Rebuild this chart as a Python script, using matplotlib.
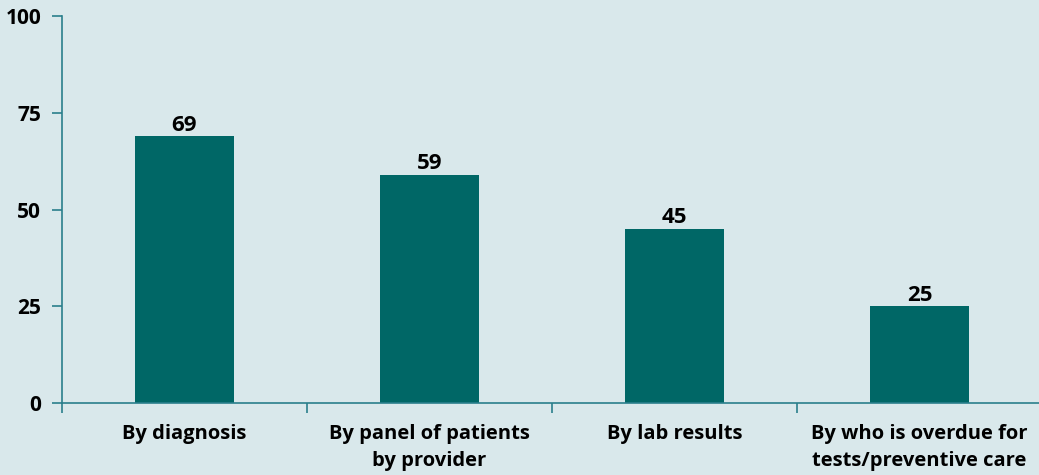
import matplotlib
matplotlib.use("Agg")
import matplotlib.pyplot as plt
import numpy as np

categories = ["By diagnosis", "By panel of patients\nby provider", "By lab results",
              "By who is overdue for\ntests/preventive care"]
values = [69, 59, 45, 25]
yticks = [0, 25, 50, 75, 100]

bg = "#d9e8eb"
bar_color = "#006766"
spine_color = "#2a7f8c"

plt.rcParams['font.family'] = ['Open Sans', 'DejaVu Sans']

fig = plt.figure(figsize=(10.39, 4.75), dpi=100, facecolor=bg)
ax = fig.add_axes([62/1039, 72/475, 980/1039, 387/475])
ax.set_facecolor(bg)

x = np.arange(len(categories))
ax.bar(x, values, width=0.404, color=bar_color, zorder=2)
for xi, v in zip(x, values):
    ax.text(xi, v + 0.1, str(v), ha="center", va="bottom", fontsize=16,
            fontweight="bold", color="black")

ax.set_xlim(-0.5, 3.5)
ax.set_ylim(0, 100)
ax.set_yticks(yticks)
ax.set_yticklabels([str(t) for t in yticks], fontsize=15, fontweight="bold")

ax.set_xticks(x)
ax.set_xticklabels(categories, fontsize=14.5, fontweight="bold", linespacing=1.45)
ax.tick_params(axis="x", length=0, pad=15)
ax.set_xticks(np.arange(-0.5, 3.6, 1.0), minor=True)
ax.tick_params(axis="x", which="minor", length=7, width=1.2, color=spine_color, direction="out")
ax.tick_params(axis="y", length=7, width=1.2, color=spine_color, direction="out", pad=8)

for s in ["top", "right"]:
    ax.spines[s].set_visible(False)
for s in ["left", "bottom"]:
    ax.spines[s].set_color(spine_color)
    ax.spines[s].set_linewidth(1.2)
ax.spines["bottom"].set_zorder(3)

fig.savefig("out.png", dpi=100, facecolor=bg)
